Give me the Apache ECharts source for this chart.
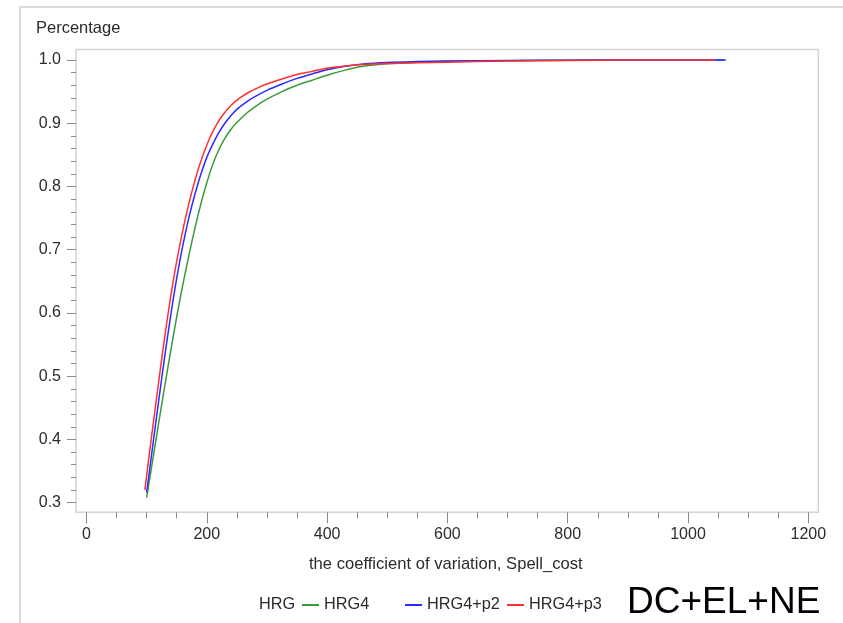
<!DOCTYPE html>
<html>
<head>
<meta charset="utf-8">
<script src="https://cdn.jsdelivr.net/npm/echarts@6/dist/echarts.min.js"></script>
<style>
html,body{margin:0;padding:0;background:#fff;}
#chart{width:843px;height:623px;}
</style>
</head>
<body>
<div id="chart"></div>
<script>
// ---- data ----
const xTickLabels = [0, 200, 400, 600, 800, 1000, 1200];
const xMinorTicks = [50, 100, 150, 250, 300, 350, 450, 500, 550, 650, 700, 750, 850, 900, 950, 1050, 1100, 1150];
const yTickLabels = [0.3, 0.4, 0.5, 0.6, 0.7, 0.8, 0.9, 1.0];
const yMinorTicks = [0.32, 0.34, 0.36, 0.38, 0.42, 0.44, 0.46, 0.48, 0.52, 0.54, 0.56, 0.58, 0.62, 0.64, 0.66, 0.68,
                     0.72, 0.74, 0.76, 0.78, 0.82, 0.84, 0.86, 0.88, 0.92, 0.94, 0.96, 0.98];

// HRG4 (green)
const hrg4X = [100, 110, 120, 130, 140, 150, 160, 170, 180, 190, 200, 210, 220, 230, 240, 250, 265, 280, 300, 325, 350, 375, 400, 430, 460, 500, 550, 600, 700, 800, 900, 1060];
const hrg4Y = [0.308, 0.367, 0.426, 0.484, 0.540, 0.594, 0.644, 0.690, 0.733, 0.772, 0.806, 0.835, 0.858, 0.876, 0.890, 0.901, 0.915, 0.926, 0.938, 0.950, 0.960, 0.968, 0.976, 0.984, 0.990, 0.994, 0.9965, 0.998, 0.999, 0.9997, 1.0, 1.0];

// HRG4+p2 (blue)
const p2X = [100, 110, 120, 130, 140, 150, 160, 170, 180, 190, 200, 210, 220, 230, 240, 250, 265, 280, 300, 325, 350, 375, 400, 430, 460, 500, 550, 600, 700, 800, 900, 1063];
const p2Y = [0.316, 0.389, 0.461, 0.531, 0.596, 0.655, 0.706, 0.750, 0.787, 0.819, 0.846, 0.867, 0.885, 0.900, 0.912, 0.922, 0.933, 0.942, 0.952, 0.962, 0.971, 0.978, 0.9845, 0.990, 0.9938, 0.9962, 0.9975, 0.9984, 0.9992, 0.9997, 1.0, 1.0];

// HRG4+p3 (red)
const p3X = [97, 105, 115, 125, 135, 145, 155, 165, 175, 185, 195, 205, 215, 225, 240, 255, 270, 285, 300, 325, 350, 375, 400, 430, 460, 500, 550, 600, 700, 800, 900, 1046];
const p3Y = [0.320, 0.381, 0.455, 0.527, 0.595, 0.655, 0.707, 0.752, 0.791, 0.825, 0.853, 0.877, 0.896, 0.911, 0.928, 0.940, 0.949, 0.956, 0.962, 0.970, 0.977, 0.982, 0.987, 0.9905, 0.9930, 0.9945, 0.9955, 0.9965, 0.9984, 0.9994, 0.9998, 1.0];

const seriesNames = ['HRG4', 'HRG4+p2', 'HRG4+p3'];
const seriesColors = ['#3a9a3a', '#2b2bff', '#ff3030'];

function pairs(xs, ys) { return xs.map((x, i) => [x, ys[i]]); }
const seriesData = [pairs(hrg4X, hrg4Y), pairs(p2X, p2Y), pairs(p3X, p3Y)];

const FONT = 'Liberation Sans, Arial, sans-serif';
const TXT = '#2b2b2b';
const TICK = '#8a8a8a';
const FRAME = '#d4d4d4';

// axis extents (the plot frame extends a little beyond the first/last tick)
const X_MIN = -17.45, X_MAX = 1216.6;
const Y_MIN = 0.2848, Y_MAX = 1.0166;

const chart = echarts.init(document.getElementById('chart'), null, {renderer: 'canvas'});

const legendPos = [302, 405, 507];

function xAxisBase() {
  return {type: 'value', min: X_MIN, max: X_MAX, position: 'bottom', gridIndex: 0,
          axisLine: {show: false, onZero: false}, splitLine: {show: false}};
}
function yAxisBase() {
  return {type: 'value', min: Y_MIN, max: Y_MAX, position: 'left', gridIndex: 0,
          axisLine: {show: false, onZero: false}, splitLine: {show: false}};
}

chart.setOption({
  backgroundColor: '#ffffff',
  animation: false,
  grid: {left: 76, right: 24.7, top: 49.5, bottom: 110.7, containLabel: false,
         show: true, borderColor: FRAME, borderWidth: 1.5, backgroundColor: 'transparent'},
  xAxis: [
    Object.assign(xAxisBase(), {
      axisTick: {show: true, length: 11, customValues: xTickLabels, lineStyle: {color: TICK, width: 1}},
      axisLabel: {show: true, customValues: xTickLabels, color: TXT, fontFamily: FONT, fontSize: 16, margin: 14,
                  formatter: v => String(Math.round(v))}
    }),
    Object.assign(xAxisBase(), {
      axisTick: {show: true, length: 6, customValues: xMinorTicks, lineStyle: {color: TICK, width: 1}},
      axisLabel: {show: false}
    })
  ],
  yAxis: [
    Object.assign(yAxisBase(), {
      axisTick: {show: true, length: 9, customValues: yTickLabels, lineStyle: {color: TICK, width: 1}},
      axisLabel: {show: true, customValues: yTickLabels, color: TXT, fontFamily: FONT, fontSize: 16, margin: 15,
                  formatter: v => v.toFixed(1)}
    }),
    Object.assign(yAxisBase(), {
      axisTick: {show: true, length: 5, customValues: yMinorTicks, lineStyle: {color: TICK, width: 1}},
      axisLabel: {show: false}
    })
  ],
  legend: seriesNames.map((n, i) => ({
    data: [n], left: legendPos[i], top: 597, orient: 'horizontal',
    icon: 'rect', itemWidth: 17, itemHeight: 2, itemGap: 4,
    textStyle: {color: TXT, fontFamily: FONT, fontSize: 16.3, padding: [0, 0, 0, 0]},
    padding: 0, selectedMode: false
  })),
  series: seriesNames.map((n, i) => ({
    name: n, type: 'line', data: seriesData[i], showSymbol: false, symbol: 'none',
    xAxisIndex: 0, yAxisIndex: 0,
    smooth: 0.3,
    lineStyle: {color: seriesColors[i], width: 1.5},
    itemStyle: {color: seriesColors[i]},
    z: 3 + i
  })),
  graphic: [
    {type: 'rect', z: 0, silent: true, shape: {x: 20, y: 7, width: 900, height: 700}, style: {fill: null, stroke: '#dadada', lineWidth: 2}},
    {type: 'text', left: 36, top: 20, silent: true, style: {text: 'Percentage', fill: TXT, font: '16.5px ' + FONT}},
    {type: 'text', left: 309, top: 556, silent: true, style: {text: 'the coefficient of variation, Spell_cost', fill: TXT, font: '16.6px ' + FONT}},
    {type: 'text', left: 259, top: 597, silent: true, style: {text: 'HRG', fill: TXT, font: '16.3px ' + FONT}},
    {type: 'text', left: 627, top: 584, silent: true, style: {text: 'DC+EL+NE', fill: '#000', font: '37px ' + FONT}}
  ]
});
</script>
</body>
</html>
